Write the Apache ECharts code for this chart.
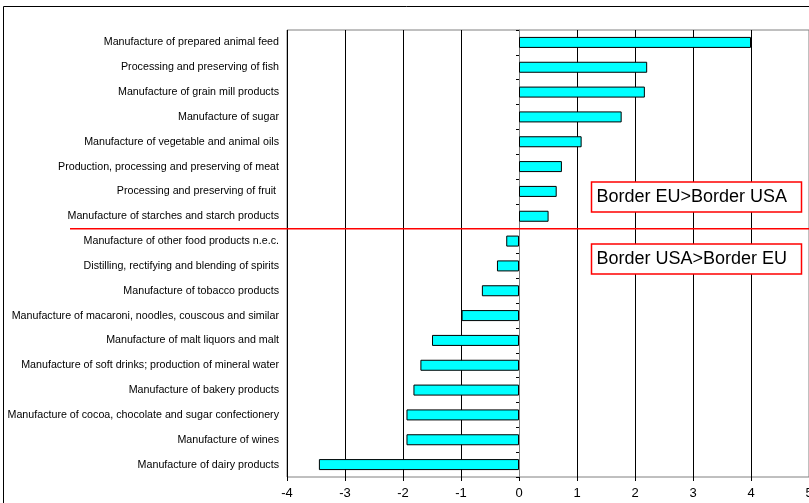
<!DOCTYPE html>
<html><head><meta charset="utf-8">
<script src="https://cdn.jsdelivr.net/npm/echarts@6/dist/echarts.min.js"></script>
<style>html,body{margin:0;padding:0;background:#fff}#c{width:809px;height:503px}</style>
</head><body><div id="c"></div>
<script>
var categories = [
  "Manufacture of prepared animal feed",
  "Processing and preserving of fish",
  "Manufacture of grain mill products",
  "Manufacture of sugar",
  "Manufacture of vegetable and animal oils",
  "Production, processing and preserving of meat",
  "Processing and preserving of fruit ",
  "Manufacture of starches and starch products",
  "Manufacture of other food products n.e.c.",
  "Distilling, rectifying and blending of spirits",
  "Manufacture of tobacco products",
  "Manufacture of macaroni, noodles, couscous and similar",
  "Manufacture of malt liquors and malt",
  "Manufacture of soft drinks; production of mineral water",
  "Manufacture of bakery products",
  "Manufacture of cocoa, chocolate and sugar confectionery",
  "Manufacture of wines",
  "Manufacture of dairy products"
];
var values = [4.0, 2.21, 2.17, 1.77, 1.08, 0.74, 0.65, 0.51, -0.22, -0.38, -0.64, -0.99, -1.50, -1.70, -1.82, -1.94, -1.94, -3.45];
var xTicks = [-4, -3, -2, -1, 0, 1, 2, 3, 4, 5];
var boxLabels = ["Border EU>Border USA", "Border USA>Border EU"];

var FONT = '"Liberation Sans", Arial, sans-serif';
var chart = echarts.init(document.getElementById('c'), null, {renderer: 'canvas'});
var option = {
  animation: false,
  backgroundColor: '#fff',
  grid: {left: 287, right: 0, top: 30, bottom: 26, show: true, borderColor: '#808080', borderWidth: 1,
         containLabel: false, outerBoundsMode: 'none'},
  xAxis: {
    type: 'value', min: xTicks[0], max: xTicks[xTicks.length - 1], interval: 1,
    axisLine: {onZero: false, lineStyle: {color: '#000', width: 1}},
    axisTick: {show: true, length: 4, lineStyle: {color: '#000'}},
    axisLabel: {color: '#000', fontSize: 13, fontFamily: FONT, margin: 10, hideOverlap: false},
    splitLine: {show: true, lineStyle: {color: '#000', width: 1}}
  },
  yAxis: [{
    type: 'category', data: categories, inverse: true,
    axisLine: {show: false}, axisTick: {show: false},
    axisLabel: {color: '#000', fontSize: 10.7, fontFamily: FONT, margin: 8}
  }, {
    type: 'category', data: categories, inverse: true, position: 'left', offset: -232,
    axisLine: {show: true, lineStyle: {color: '#808080', width: 1}},
    axisTick: {show: true, length: 3, inside: false, lineStyle: {color: '#000'}},
    axisLabel: {show: false}
  }],
  series: [{
    type: 'bar', data: values, barWidth: 11, yAxisIndex: 0,
    itemStyle: {color: '#00FFFF', borderColor: '#000', borderWidth: 1}
  }]
};
chart.setOption(option);

// compute annotation positions from the scales
var y7 = chart.convertToPixel({yAxisIndex: 0}, 7);
var y8 = chart.convertToPixel({yAxisIndex: 0}, 8);
var yMid = (y7 + y8) / 2;
var xBox = chart.convertToPixel({xAxisIndex: 0}, 1.25);
var step = y8 - y7;
chart.setOption({
  graphic: [
    {type: 'rect', shape: {x: 3.5, y: 6.5, width: 900, height: 700}, style: {fill: null, stroke: '#000', lineWidth: 1}, silent: true, z: 100},
    {type: 'line', shape: {x1: 70, y1: yMid, x2: 809, y2: yMid}, style: {stroke: '#FF0000', lineWidth: 1.5}, z: 100},
    {type: 'group', x: xBox, y: yMid - step * 1.88, z: 100, children: [
      {type: 'rect', shape: {x: 0, y: 0, width: 210, height: 30}, style: {fill: '#fff', stroke: '#FF0000', lineWidth: 1.5}},
      {type: 'text', x: 5, y: 15, style: {text: boxLabels[0], font: '18px ' + FONT, fill: '#000', textVerticalAlign: 'middle', verticalAlign: 'middle'}}
    ]},
    {type: 'group', x: xBox, y: yMid + step * 0.62, z: 100, children: [
      {type: 'rect', shape: {x: 0, y: 0, width: 210, height: 30}, style: {fill: '#fff', stroke: '#FF0000', lineWidth: 1.5}},
      {type: 'text', x: 5, y: 15, style: {text: boxLabels[1], font: '18px ' + FONT, fill: '#000', textVerticalAlign: 'middle', verticalAlign: 'middle'}}
    ]}
  ]
});
</script>
</body></html>
